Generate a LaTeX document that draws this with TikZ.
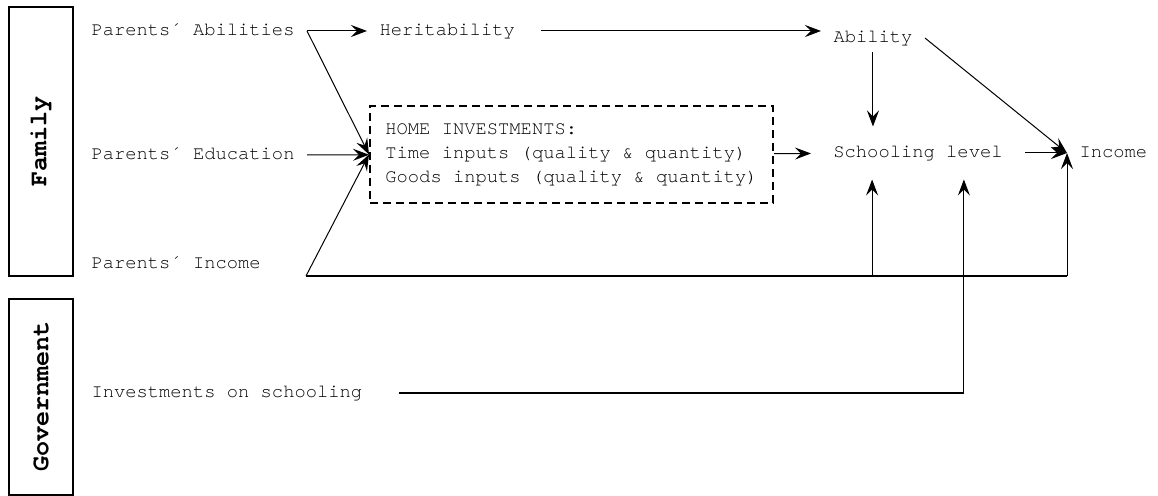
\documentclass[tikz,border=0pt]{standalone}
\usepackage{fontspec}
\newfontfamily\diagfont{TeX Gyre Cursor}
\usepackage{tikz}
\usetikzlibrary{arrows.meta, positioning, calc}
\tikzset{factor/.style={font=\diagfont\fontsize{9.4}{12}\selectfont, inner xsep=6pt, inner ysep=3pt, text height=6.5pt, text depth=1.5pt, anchor=west}}
\tikzset{outcome/.style={factor, anchor=center, inner sep=0pt}}
\tikzset{group box/.style={draw=black, line width=1pt, rectangle, rotate=90, minimum height=32pt, font=\diagfont\bfseries\fontsize{12.5}{14}\selectfont}}
\tikzset{invest box/.style={draw=black, line width=1pt, dash pattern=on 4pt off 2.5pt, rectangle, align=left, minimum width=201.5pt, minimum height=48.5pt, font=\diagfont\fontsize{9.4}{12}\selectfont}}
\tikzset{bus/.style={line width=1pt}}

\begin{document}
\begin{tikzpicture}[x=0.5pt, y=-0.5pt, line width=0.5pt, >={Stealth[length=8pt,width=6pt,inset=3pt]}]
\useasboundingbox (0,0) rectangle (1158,496);
\node[group box, minimum width=134.5pt] (family) at (41,141.5) {Family};
\node[group box, minimum width=98pt] (gov) at (41,397) {Government};
\node[factor] (pa) at (79,31) {Parents´ Abilities};
\node[factor] (edu) at (79,155) {Parents´ Education};
\node[factor] (pi) at (79,264) {Parents´ Income};
\node[factor] (inv) at (79,393) {Investments on schooling};
\node[factor] (her) at (367,31) {Heritability};
\node[factor] (abl) at (821,38) {Ability};
\node[invest box] (home) at (571.5,154.5) {HOME INVESTMENTS:\\Time inputs (quality \& quantity)\\Goods inputs (quality \& quantity)};
\node[outcome, minimum width=106.5pt, minimum height=26pt] (sch) at (918,153) {Schooling level};
\node[factor] (inc) at (1067,153) {Income};
\coordinate (pij) at (306,276);
\draw[->] (pa) -- (her);
\draw[->] (pa.east) -- (home.west);
\draw[->] (edu) -- (home);
\draw[->] (pij) -- (home.west);
\draw[->, shorten <=7pt] (her.east) -- (her.east -| abl.west);
\draw[->] (abl) -- (abl |- sch.north);
\draw[->] (abl.east) -- (inc.west);
\draw[->] (home) -- (sch);
\draw[->] (sch) -- (inc);
\draw[bus] (pij) -- (inc.west |- pij);
\draw[->] (inc.west |- pij) -- (inc.west);
\draw[->] (sch.-150 |- pij) -- (sch.-150);
\draw[bus, shorten <=12pt] (inv) -- (sch.-30 |- inv);
\draw[->] (sch.-30 |- inv) -- (sch.-30);
\end{tikzpicture}
\end{document}
